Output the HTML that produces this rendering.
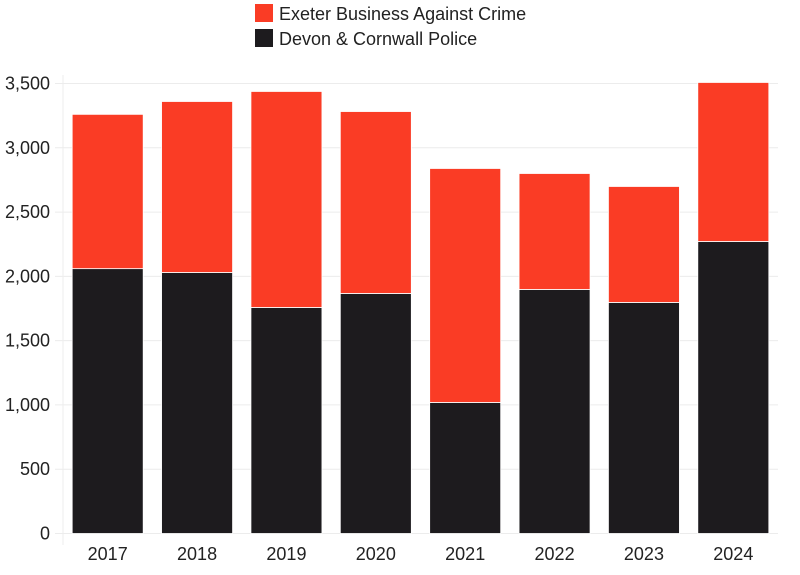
<!DOCTYPE html>
<html><head><meta charset="utf-8"><style>
html,body{margin:0;padding:0;background:#fff;}
svg{display:block;font-family:"Liberation Sans",sans-serif;}
</style></head><body>
<svg id="chart" width="800" height="575">
<g id="legend">
<g>
<rect x="255" y="4" width="18" height="18" fill="#fa3c25"/>
<text x="279" y="20" font-size="18" fill="#222">Exeter Business Against Crime</text></g>
<g>
<rect x="255" y="29" width="18" height="18" fill="#1d1b1e"/>
<text x="279" y="45" font-size="18" fill="#222">Devon &amp; Cornwall Police</text></g>
</g>
<g id="grid"></g>
<g id="bars"></g>
<g id="yaxis"></g>
<g id="xaxis"></g>
</svg>
<script>
const categories = ["2017","2018","2019","2020","2021","2022","2023","2024"];
const police = [2060,2030,1758,1867,1019,1898,1797,2271];
const ebac = [1200,1330,1680,1415,1820,902,902,1237];
const yTicks = [0,500,1000,1500,2000,2500,3000,3500];
const yTickLabels = ["0","500","1,000","1,500","2,000","2,500","3,000","3,500"];

const NS="http://www.w3.org/2000/svg";
const plotLeft=63,plotRight=778,plotBase=533.5,plotTop=83.5,yMax=3500;
const yScale=v=>plotBase-(v/yMax)*(plotBase-plotTop);
const step=(plotRight-plotLeft)/categories.length, bw=71;
const xScale=i=>plotLeft+step*i+(step-bw)/2;
function mk(tag,attrs,parent){const e=document.createElementNS(NS,tag);for(const k in attrs)e.setAttribute(k,attrs[k]);parent.appendChild(e);return e;}
const grid=document.getElementById('grid'),bars=document.getElementById('bars'),ya=document.getElementById('yaxis'),xa=document.getElementById('xaxis');
mk('line',{x1:plotLeft,x2:plotLeft,y1:75,y2:545,stroke:'#eee','stroke-width':1},grid);
yTicks.forEach((t,i)=>{
 const l=mk('line',{x1:plotLeft-8,x2:plotRight,y1:yScale(t),y2:yScale(t),stroke:'#ececec','stroke-width':1},grid);
 
 
 const tx=mk('text',{x:50,y:yScale(t)+6,'text-anchor':'end','font-size':18,fill:'#222'},ya);
 tx.textContent=yTickLabels[i];
 
 
});
categories.forEach((c,i)=>{
 const p=mk('rect',{x:xScale(i),y:yScale(police[i]),width:bw,height:plotBase-yScale(police[i]),fill:'#1d1b1e',stroke:'#fff','stroke-width':0.8},bars);
 
 
 const tot=police[i]+ebac[i];
 const e=mk('rect',{x:xScale(i),y:yScale(tot),width:bw,height:yScale(police[i])-yScale(tot),fill:'#fa3c25',stroke:'#fff','stroke-width':0.8},bars);
 
 
 const t=mk('text',{x:xScale(i)+bw/2,y:560,'text-anchor':'middle','font-size':18,fill:'#222'},xa);
 t.textContent=c;
 
 
});
</script>
</body></html>
